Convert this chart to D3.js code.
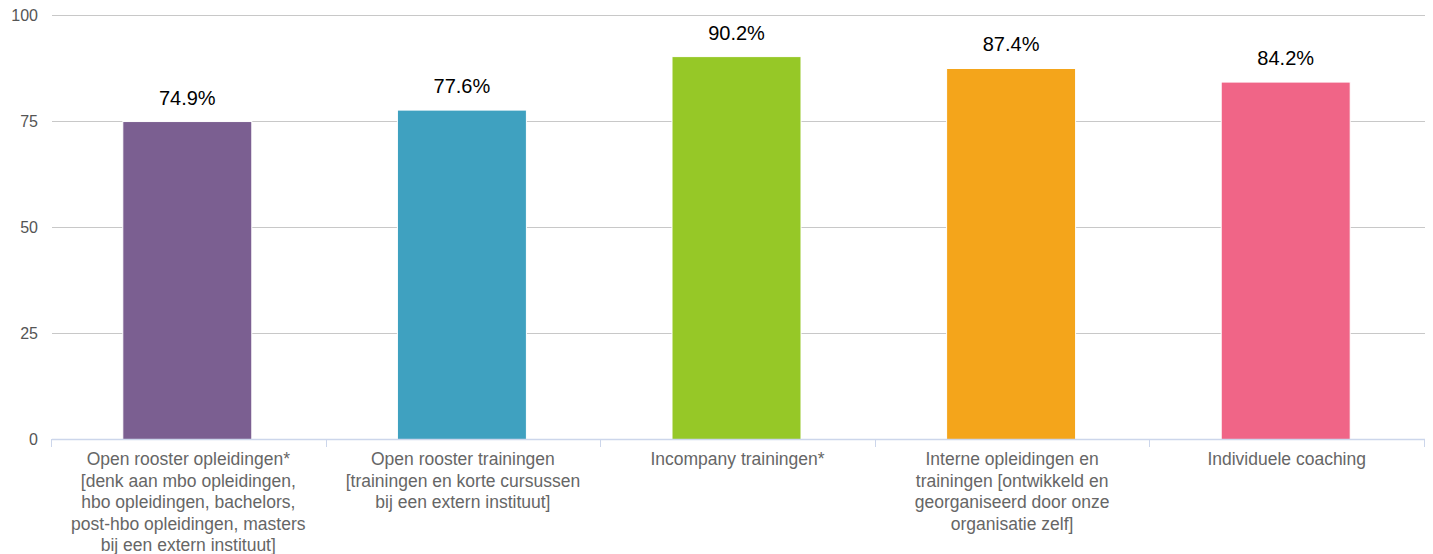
<!DOCTYPE html>
<html><head><meta charset="utf-8">
<script src="https://cdn.jsdelivr.net/npm/d3@7"></script>
<style>
html,body{margin:0;padding:0;background:#fff;}
svg{display:block;font-family:"Liberation Sans",Arial,Helvetica,sans-serif;}
</style></head>
<body>
<svg id="chart" width="1433" height="554"></svg>
<script>
const categories = [
  "Open rooster opleidingen*\n[denk aan mbo opleidingen,\nhbo opleidingen, bachelors,\npost-hbo opleidingen, masters\nbij een extern instituut]",
  "Open rooster trainingen\n[trainingen en korte cursussen\nbij een extern instituut]",
  "Incompany trainingen*",
  "Interne opleidingen en\ntrainingen [ontwikkeld en\ngeorganiseerd door onze\norganisatie zelf]",
  "Individuele coaching"
];
const values = [74.9, 77.6, 90.2, 87.4, 84.2];
const colors = ["#7b5f91", "#3fa1c0", "#96c827", "#f4a51b", "#f06587"];
const yTicks = [0, 25, 50, 75, 100];

(function () {
const svg = d3.select("#chart");
const mLeft = 52, mRight = 1425, mTop = 15, mBottom = 439.5;

const x = d3.scaleBand().domain(d3.range(categories.length)).range([mLeft, mRight]).padding(0);
const y = d3.scaleLinear().domain([0, 100]).range([mBottom, mTop]);

// gridlines
svg.append("g").selectAll("line").data(yTicks.filter(d => d > 0)).join("line")
  .attr("x1", mLeft).attr("x2", mRight)
  .attr("y1", d => Math.round(y(d)) + 0.5).attr("y2", d => Math.round(y(d)) + 0.5)
  .attr("stroke", "#c8c8c8").attr("stroke-width", 1);

// y labels
svg.append("g").selectAll("text").data(yTicks).join("text")
  .attr("x", 38).attr("y", d => y(d) + 5.5)
  .attr("text-anchor", "end").attr("font-size", 16).attr("fill", "#555")
  .text(d => d);

const barW = 129;
svg.append("g").selectAll("rect").data(values).join("rect")
  .attr("x", (d, i) => x(i) + x.bandwidth() / 2 - 2 - barW / 2)
  .attr("y", d => y(d))
  .attr("width", barW)
  .attr("height", d => mBottom - y(d))
  .attr("fill", (d, i) => colors[i])
  .attr("stroke", "#fff").attr("stroke-width", 1);

svg.append("g").selectAll("text").data(values).join("text")
  .attr("x", (d, i) => x(i) + x.bandwidth() / 2 - 2)
  .attr("y", d => y(d) - 17)
  .attr("text-anchor", "middle").attr("font-size", 20).attr("fill", "#000")
  .text(d => d.toFixed(1) + "%");

svg.append("line").attr("x1", mLeft).attr("x2", mRight)
  .attr("y1", 439.5).attr("y2", 439.5).attr("stroke", "#ccd6eb").attr("stroke-width", 1.5);
const tickPos = d3.range(categories.length + 1).map(i => mLeft + i * x.bandwidth());
svg.append("g").selectAll("line").data(tickPos).join("line")
  .attr("x1", d => Math.round(d) - 0.5).attr("x2", d => Math.round(d) - 0.5)
  .attr("y1", 439).attr("y2", 447)
  .attr("stroke", "#ccd6eb").attr("stroke-width", 1);

const cg = svg.append("g").selectAll("text").data(categories).join("text")
  .attr("x", (d, i) => x(i) + x.bandwidth() / 2 - 1)
  .attr("y", 465)
  .attr("text-anchor", "middle").attr("font-size", 17.5).attr("fill", "#666");
cg.each(function(d) {
  const t = d3.select(this);
  d.split("\n").forEach((line, j) => {
    t.append("tspan").attr("x", t.attr("x")).attr("dy", j === 0 ? 0 : 21.5).text(line);
  });
});
})();
</script>
</body></html>
